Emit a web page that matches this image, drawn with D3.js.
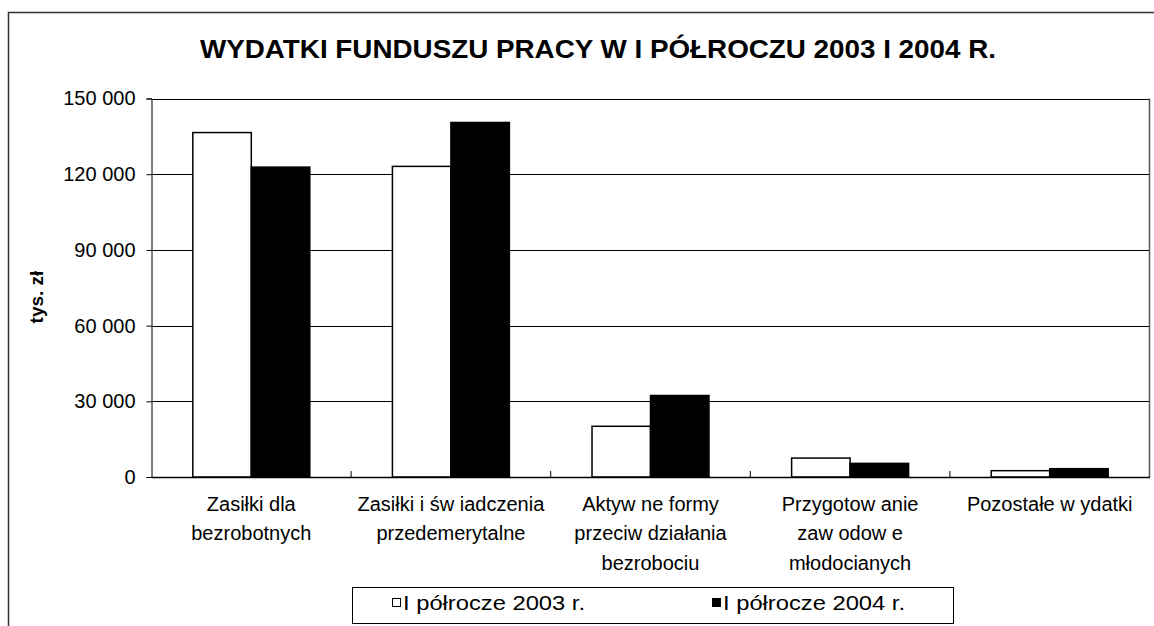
<!DOCTYPE html>
<html>
<head>
<meta charset="utf-8">
<script src="https://cdn.jsdelivr.net/npm/d3@7"></script>
<style>
  html, body { margin: 0; padding: 0; background: #fff; }
  svg { display: block; font-family: "Liberation Sans", Arial, sans-serif; }
</style>
</head>
<body>
<svg id="chart" width="1154" height="626"></svg>
<script>
// ---- data ----
const categories = [
  ["Zasiłki dla", "bezrobotnych"],
  ["Zasiłki i św iadczenia", "przedemerytalne"],
  ["Aktyw ne formy", "przeciw działania", "bezrobociu"],
  ["Przygotow anie", "zaw odow e", "młodocianych"],
  ["Pozostałe w ydatki"]
];
const seriesNames = ["I półrocze 2003 r.", "I półrocze 2004 r."];
const values2003 = [136500, 123100, 20100, 7500, 2500];
const values2004 = [122800, 140500, 32300, 5400, 3300];
const yTicks = [0, 30000, 60000, 90000, 120000, 150000];
const yTickLabels = ["0", "30 000", "60 000", "90 000", "120 000", "150 000"];
const title = "WYDATKI FUNDUSZU PRACY W I PÓŁROCZU 2003 I 2004 R.";
const yTitle = "tys. zł";

const svg = d3.select("#chart");
const plot = { left: 151.5, right: 1149.5, top: 98.5, bottom: 477 };

// outer frame
svg.append("rect")
  .attr("x", 8.5).attr("y", 12.5).attr("width", 1160).attr("height", 700)
  .attr("fill", "none").attr("stroke", "#333").attr("stroke-width", 1.5);

// scales
const idx = d3.range(categories.length);
const x0 = d3.scaleBand().domain(idx).range([plot.left, plot.right]).padding(0);
const gap = x0.bandwidth() * 0.207;
const x1 = d3.scaleBand().domain([0, 1]).range([gap, x0.bandwidth() - gap]).padding(0);
const y = d3.scaleLinear().domain([0, 150000]).range([plot.bottom, plot.top]);

// gridlines
svg.append("g").selectAll("line").data(yTicks.slice(1)).join("line")
  .attr("x1", plot.left).attr("x2", plot.right)
  .attr("y1", d => Math.round(y(d)) + 0.5).attr("y2", d => Math.round(y(d)) + 0.5)
  .attr("stroke", "#000").attr("stroke-width", 1);

// right border of plot area
svg.append("line")
  .attr("x1", plot.right).attr("x2", plot.right)
  .attr("y1", y(150000)).attr("y2", plot.bottom)
  .attr("stroke", "#555").attr("stroke-width", 1.5);

// y axis
const yAxis = d3.axisLeft(y).tickValues(yTicks)
  .tickFormat((d, i) => yTickLabels[i]).tickSize(5).tickPadding(11);
const gy = svg.append("g").attr("transform", `translate(${plot.left},0)`).call(yAxis);
gy.select(".domain").attr("stroke", "#000");
gy.selectAll(".tick line").attr("stroke", "#000");
gy.selectAll(".tick text").attr("font-size", 20).attr("fill", "#000")
  .attr("font-family", "Liberation Sans, Arial, sans-serif");

// bars
const data = idx.map(i => [values2003[i], values2004[i]]);
const groups = svg.append("g").selectAll("g").data(data).join("g")
  .attr("transform", (d, i) => `translate(${x0(i)},0)`);
groups.selectAll("rect").data(d => d.map((v, s) => ({ v, s }))).join("rect")
  .attr("x", d => x1(d.s))
  .attr("width", x1.bandwidth())
  .attr("y", d => y(d.v))
  .attr("height", d => plot.bottom - y(d.v))
  .attr("fill", d => d.s === 0 ? "#fff" : "#000")
  .attr("stroke", "#000").attr("stroke-width", 1.5);

// x axis
const xAxis = d3.axisBottom(x0).tickValues([]).tickSizeOuter(0);
const gx = svg.append("g").attr("transform", `translate(0,${plot.bottom})`).call(xAxis);
gx.select(".domain").attr("stroke", "#000").attr("stroke-width", 1.5);
// category boundary ticks (pointing up)
svg.append("g").selectAll("line").data(idx.slice(1)).join("line")
  .attr("x1", i => x0(i)).attr("x2", i => x0(i))
  .attr("y1", plot.bottom - 6).attr("y2", plot.bottom)
  .attr("stroke", "#000");

// category labels
const labG = svg.append("g");
categories.forEach((lines, i) => {
  const t = labG.append("text")
    .attr("x", x0(i) + x0.bandwidth() / 2)
    .attr("y", 511)
    .attr("text-anchor", "middle")
    .attr("font-size", 20).attr("fill", "#000");
  lines.forEach((ln, k) => {
    t.append("tspan").attr("x", x0(i) + x0.bandwidth() / 2)
      .attr("dy", k === 0 ? 0 : 29.3).text(ln);
  });
});

// title
svg.append("text")
  .attr("x", 598).attr("y", 58)
  .attr("text-anchor", "middle")
  .attr("font-size", 25).attr("font-weight", "bold")
  .attr("textLength", 796).attr("lengthAdjust", "spacingAndGlyphs")
  .text(title);

// y title
svg.append("text")
  .attr("transform", "translate(43,297) rotate(-90)")
  .attr("text-anchor", "middle")
  .attr("font-size", 19).attr("font-weight", "bold")
  .text(yTitle);

// legend
const lg = svg.append("g");
lg.append("rect").attr("x", 352.5).attr("y", 587.5).attr("width", 601).attr("height", 36)
  .attr("fill", "#fff").attr("stroke", "#000").attr("stroke-width", 1);
const legX = [392, 712];
seriesNames.forEach((name, s) => {
  lg.append("rect").attr("x", legX[s] + 0.5).attr("y", 598.5).attr("width", 8).attr("height", 8)
    .attr("fill", s === 0 ? "#fff" : "#000").attr("stroke", "#000").attr("stroke-width", 1);
  lg.append("text").attr("x", legX[s] + 11).attr("y", 609.5)
    .attr("font-size", 20)
    .attr("textLength", 182).attr("lengthAdjust", "spacingAndGlyphs")
    .text(name);
});
</script>
</body>
</html>
